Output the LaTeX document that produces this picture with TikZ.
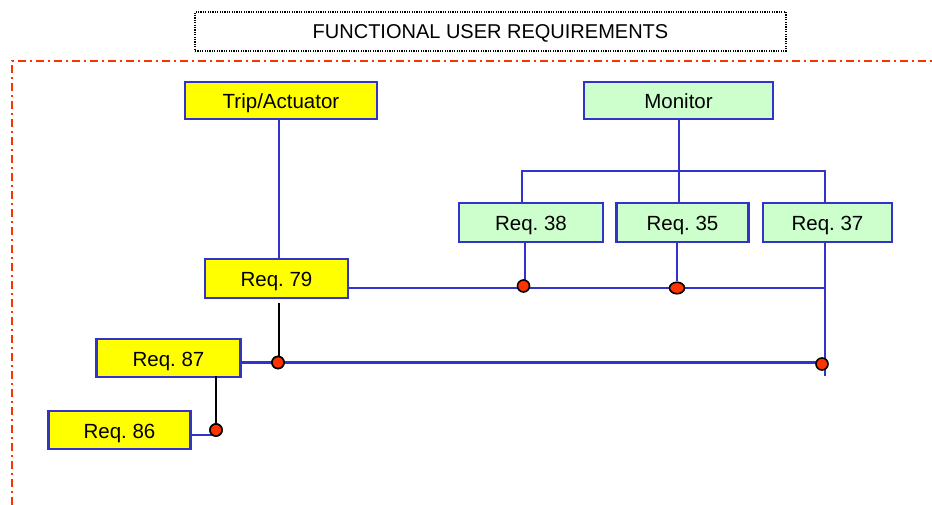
\documentclass[tikz,border=0pt]{standalone}
\usepackage{fontspec}
\setmainfont{Liberation Sans}
\usetikzlibrary{shapes.geometric}
\pgfdeclarelayer{wires}
\pgfsetlayers{wires,main}
\definecolor{boxblue}{HTML}{3333CC}
\definecolor{tripyellow}{HTML}{FFFF00}
\definecolor{monitorgreen}{HTML}{CCFFCC}
\definecolor{dotred}{HTML}{FF3300}
\definecolor{framered}{HTML}{FF3300}
\tikzset{
  reqbox/.style={draw=boxblue, line width=2.4pt, inner sep=0pt,
    font=\fontsize{20.5}{22}\selectfont, text height=17pt, text depth=0pt},
  ybox/.style={reqbox, fill=tripyellow},
  gbox/.style={reqbox, fill=monitorgreen},
  conn/.style={draw=boxblue, line width=2.4pt},
  blackconn/.style={draw=black, line width=2.4pt},
  jdot/.style={circle, draw=black, fill=dotred, line width=1.6pt,
    inner sep=0pt, minimum size=12pt},
  jdotwide/.style={ellipse, draw=black, fill=dotred, line width=1.6pt,
    inner sep=0pt, minimum width=15pt, minimum height=11.5pt},
  titlebox/.style={draw=black, line width=1.4pt, dash pattern=on 1.2pt off 1.2pt,
    fill=white, inner sep=0pt, font=\fontsize{20}{22}\selectfont,
    text height=15pt, text depth=0pt},
  frame/.style={draw=framered, line width=2pt,
    dash pattern=on 8pt off 4pt on 2pt off 4pt}
}
\begin{document}
\frenchspacing
\begin{tikzpicture}[x=1pt,y=-1pt]
\useasboundingbox (0,0) rectangle (932,505);

% outer dash-dot frame
\draw[frame] (12,505) -- (12,61) -- (935,61);

% title
\node[titlebox, minimum width=591pt, minimum height=39pt] (title) at (490.5,31.5)
  {FUNCTIONAL USER REQUIREMENTS};

% requirement boxes
\node[ybox, minimum width=192pt, minimum height=37pt] (trip) at (281,100.5) {Trip/Actuator};
\node[gbox, minimum width=189pt, minimum height=37pt] (mon)  at (678.5,100.5) {Monitor};
\node[gbox, minimum width=144pt, minimum height=39pt] (r38)  at (531,222.5) {Req. 38};
\node[gbox, minimum width=132pt, minimum height=39pt] (r35)  at (682.5,222.5) {Req. 35};
\node[gbox, minimum width=129pt, minimum height=39pt] (r37)  at (827.5,222.5) {Req. 37};
\node[ybox, minimum width=143pt, minimum height=39pt] (r79)  at (276.5,278.5) {Req. 79};
\node[ybox, minimum width=144pt, minimum height=38pt] (r87)  at (168.5,358) {Req. 87};
\node[ybox, minimum width=142pt, minimum height=38pt] (r86)  at (119.5,430) {Req. 86};

% junction points and dots
\coordinate (busL) at (522,171);
\coordinate (busM) at (679,171);
\coordinate (busR) at (825,171);
\coordinate (b79)  at (825,288);
\coordinate (tail) at (825,376);
\coordinate (k86)  at (216,435);
\node[jdot]     (d38) at (523.5,286) {};
\node[jdotwide] (d35) at (677,288) {};
\node[jdot]     (d79) at (278,362.5) {};
\node[jdot]     (d37) at (822,364) {};
\node[jdot]     (d87) at (216,430) {};

% connectors, kept beneath boxes and dots
\begin{pgfonlayer}{wires}
\draw[conn] (trip.center -| 279,0) -- (r79.center -| 279,0);
\draw[conn] (mon.center -| busM) -- (busM);
\draw[conn] (r38.center -| busL) -- (busL) -- (busR) -- (r37.center -| busR);
\draw[conn] (busM) -- (r35.center -| busM);
\draw[conn] (r37.center -| tail) -- (tail);
\draw[conn] (r79.center |- b79) -- (b79);
\draw[conn] (r38.center -| 525,0) -- (525,286);
\draw[conn] (r35.center -| d35) -- (d35);
\draw[conn] (r87.center |- d79) -- (tail |- d79);
\draw[conn] (r86.center |- k86) -- (k86);
\end{pgfonlayer}

% black drops into the lower buses
\draw[blackconn] (r79.south -| 279,0) ++(0,4) -- (d79.north -| 279,0);
\draw[blackconn] (r87.south -| d87) ++(0,-2) -- (d87.north);
\node[jdot] at (d79) {};
\node[jdot] at (d87) {};
\end{tikzpicture}
\end{document}
